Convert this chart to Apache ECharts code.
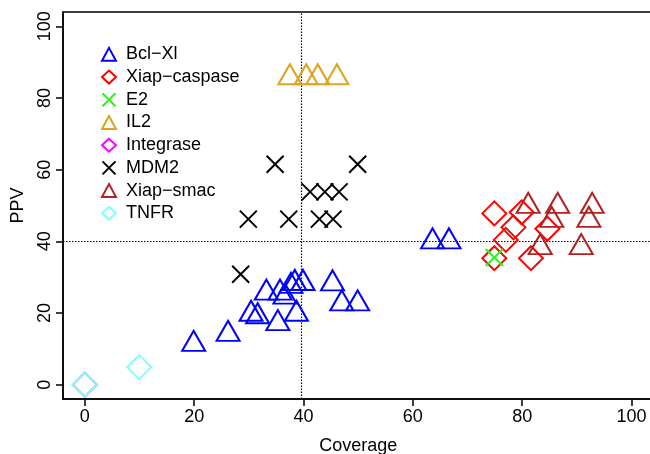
<!DOCTYPE html>
<html>
<head>
<meta charset="utf-8">
<script src="https://cdn.jsdelivr.net/npm/echarts@6/dist/echarts.min.js"></script>
<style>
html,body{margin:0;padding:0;background:#fff;}
#chart{width:650px;height:454px;}
</style>
</head>
<body>
<div id="chart"></div>
<script>
// ---- data ----
const seriesNames = ['Bcl\u2212Xl', 'Xiap\u2212caspase', 'E2', 'IL2', 'Integrase', 'MDM2', 'Xiap\u2212smac', 'TNFR'];
const xTicks = [0, 20, 40, 60, 80, 100];
const yTicks = [0, 20, 40, 60, 80, 100];
const refCoverage = 39.6;
const refPPV = 40;

const bclCoverage = [19.9, 26.2, 30.4, 31.6, 35.3, 38.7, 33.2, 35.7, 36.6, 38.4, 39.9, 37.7, 45.3, 47.0, 49.9, 63.6, 66.6];
const bclPPV      = [11.3, 14.1, 19.7, 19.0, 17.1, 19.7, 25.6, 25.6, 24.5, 28.3, 28.3, 27.5, 28.2, 22.6, 22.6, 39.9, 39.9];

const caspCoverage = [74.9, 79.9, 78.4, 77.0, 74.9, 81.6, 84.6];
const caspPPV      = [47.8, 48.1, 43.9, 40.4, 35.3, 35.3, 43.5];

const e2Coverage = [74.9];
const e2PPV      = [35.5];

const il2Coverage = [37.5, 40.5, 42.6, 46.1];
const il2PPV      = [85.7, 85.7, 85.7, 85.7];

const integraseCoverage = [0];
const integrasePPV      = [0];

const mdm2Coverage = [34.8, 49.9, 41.2, 43.9, 46.5, 29.9, 37.3, 42.9, 45.4, 28.5];
const mdm2PPV      = [61.5, 61.5, 53.8, 53.8, 53.8, 46.2, 46.2, 46.2, 46.2, 30.8];

const smacCoverage = [81.1, 86.5, 92.8, 85.4, 92.2, 83.3, 90.8];
const smacPPV      = [49.8, 49.8, 49.8, 45.9, 45.9, 38.3, 38.3];

const tnfrCoverage = [0, 9.95];
const tnfrPPV      = [0, 4.9];

// ---- styles ----
const colors = ['#0000FF', '#FF0000', '#33EE22', '#DAA520', '#FF00FF', '#000000', '#B22222', '#80FFFF'];
const TRI = 'triangle';
const DIA = 'diamond';
const CROSS = 'path://M0,0L10,10M0,10L10,0';
const symbols = [TRI, DIA, CROSS, TRI, DIA, CROSS, TRI, DIA];
const sizes = {};
sizes[TRI] = [23, 20];
sizes[DIA] = [24, 24];
sizes[CROSS] = [17, 17];

function pairs(xs, ys) { return xs.map((x, i) => [x, ys[i]]); }
const dataSets = [
  pairs(bclCoverage, bclPPV),
  pairs(caspCoverage, caspPPV),
  pairs(e2Coverage, e2PPV),
  pairs(il2Coverage, il2PPV),
  pairs(integraseCoverage, integrasePPV),
  pairs(mdm2Coverage, mdm2PPV),
  pairs(smacCoverage, smacPPV),
  pairs(tnfrCoverage, tnfrPPV)
];

const FONT = '"Liberation Sans", Arial, Helvetica, sans-serif';

const series = seriesNames.map((name, i) => {
  const sym = symbols[i];
  return {
    name: name,
    type: 'scatter',
    data: dataSets[i],
    symbol: sym,
    symbolSize: sizes[sym],
    symbolOffset: sym === TRI ? [0, -3.3] : [0, 0],
    itemStyle: { color: 'rgba(0,0,0,0)', borderColor: colors[i], borderWidth: 2, opacity: 1 },
    emphasis: { disabled: true },
    silent: true,
    z: 3 + i
  };
});

series[0].markLine = {
  silent: true,
  symbol: ['none', 'none'],
  label: { show: false },
  lineStyle: { color: '#000', width: 1.2, type: [1.5, 1.5], opacity: 1 },
  data: [{ xAxis: refCoverage }, { yAxis: refPPV }],
  z: 1
};

const chart = echarts.init(document.getElementById('chart'), null, { renderer: 'canvas' });
chart.setOption({
  animation: false,
  backgroundColor: '#fff',
  textStyle: { fontFamily: FONT },
  grid: {
    left: 63, right: -3.4, top: 12, bottom: 55,
    containLabel: false, outerBoundsMode: 'none',
    show: true, borderColor: '#000', borderWidth: 1.5, backgroundColor: 'transparent'
  },
  legend: {
    orient: 'vertical',
    left: 96,
    top: 38,
    itemWidth: 14,
    itemHeight: 13,
    itemGap: 0,
    selectedMode: false,
    itemStyle: { opacity: 1 },
    textStyle: { fontFamily: FONT, fontSize: 18, color: '#000', lineHeight: 22.7, padding: [0, 0, 0, 5] },
    data: seriesNames
  },
  xAxis: {
    type: 'value', min: -4, max: 104,
    name: 'Coverage', nameLocation: 'middle', nameGap: 38,
    nameTextStyle: { fontFamily: FONT, fontSize: 18, color: '#000' },
    axisLine: { show: true, onZero: false, lineStyle: { color: '#000', width: 1.5 } },
    axisTick: { show: true, inside: false, length: 7, customValues: xTicks, lineStyle: { color: '#000', width: 1.5 } },
    axisLabel: { customValues: xTicks, fontFamily: FONT, fontSize: 18, color: '#000', margin: 9 },
    splitLine: { show: false }
  },
  yAxis: {
    type: 'value', min: -4, max: 104,
    name: 'PPV', nameLocation: 'middle', nameGap: 36,
    nameTextStyle: { fontFamily: FONT, fontSize: 18, color: '#000' },
    axisLine: { show: true, onZero: false, lineStyle: { color: '#000', width: 1.5 } },
    axisTick: { show: true, inside: false, length: 7, customValues: yTicks, lineStyle: { color: '#000', width: 1.5 } },
    axisLabel: { customValues: yTicks, rotate: 90, fontFamily: FONT, fontSize: 18, color: '#000', margin: 9 },
    splitLine: { show: false }
  },
  series: series
});
</script>
</body>
</html>
